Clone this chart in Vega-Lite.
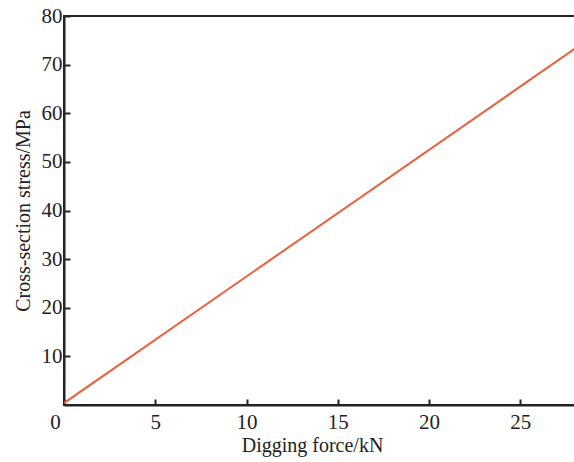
{
  "$schema": "https://vega.github.io/schema/vega-lite/v6.json",
  "width": 511,
  "height": 389,
  "autosize": {"type": "none"},
  "padding": {"left": 64, "top": 16, "right": 0, "bottom": 57},
  "background": "white",
  "config": {
    "view": {"stroke": "#222", "strokeWidth": 2},
    "font": "Liberation Serif",
    "axis": {
      "labelFont": "Liberation Serif",
      "titleFont": "Liberation Serif",
      "labelFontSize": 21,
      "titleFontSize": 20,
      "titleFontWeight": "normal",
      "labelColor": "#222",
      "titleColor": "#222",
      "domainColor": "#222",
      "domainWidth": 2,
      "tickColor": "#222",
      "tickWidth": 2,
      "tickSize": -6,
      "grid": false
    }
  },
  "data": {"values": [
    {"force": 0, "stress": 0.4},
    {"force": 28, "stress": 73.3}
  ]},
  "mark": {"type": "line", "color": "#e8603c", "strokeWidth": 2, "clip": true},
  "encoding": {
    "x": {"field": "force", "type": "quantitative", "title": "Digging force/kN",
      "scale": {"domain": [0, 28], "nice": false},
      "axis": {"values": [0, 5, 10, 15, 20, 25], "labelFlush": false,
        "labelOffset": {"expr": "datum.value == 0 ? -9 : 0"},
        "labelPadding": 12, "titlePadding": 3, "titleX": 248}},
    "y": {"field": "stress", "type": "quantitative", "title": "Cross-section stress/MPa",
      "scale": {"domain": [0, 80], "nice": false},
      "axis": {"values": [10, 20, 30, 40, 50, 60, 70, 80], "labelFlush": false, "labelPadding": 8, "titlePadding": 8}}
  }
}
